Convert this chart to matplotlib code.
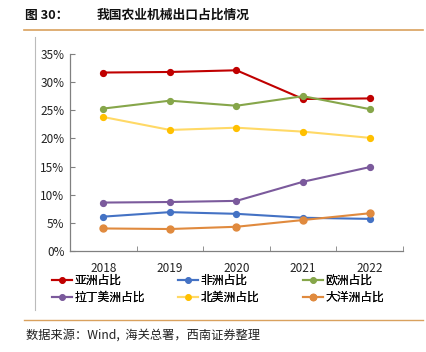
import numpy as np
import matplotlib.pyplot as plt
from matplotlib.lines import Line2D

plt.rcParams['font.family'] = ['Noto Sans CJK SC', 'DejaVu Sans']
plt.rcParams['axes.unicode_minus'] = False

years = ['2018', '2019', '2020', '2021', '2022']
asia = [31.7, 31.8, 32.1, 27.0, 27.1]
africa = [6.1, 6.9, 6.6, 5.9, 5.7]
europe = [25.3, 26.7, 25.8, 27.5, 25.2]
latam = [8.6, 8.7, 8.9, 12.3, 14.9]
namerica = [23.8, 21.5, 21.9, 21.2, 20.1]
oceania = [4.0, 3.9, 4.3, 5.5, 6.7]

names = ['亚洲占比', '非洲占比', '欧洲占比', '拉丁美洲占比', '北美洲占比', '大洋洲占比']
series = [asia, africa, europe, latam, namerica, oceania]
colors = ['#C00000', '#4472C4', '#86A64A', '#7B5A9C', '#FFD966', '#E08A3E']
mcolors = ['#C00000', '#4472C4', '#86A64A', '#7B5A9C', '#FFC000', '#E08A3E']
msizes = [4.2, 4.2, 4.2, 4.2, 4.2, 5.0]


def main():
    fig = plt.figure(figsize=(4.26, 3.52), dpi=100)
    ax = fig.add_axes([0.1643, 0.287, 0.7817, 0.5597])

    x = np.arange(len(years))
    handles = []
    for s, n, c, mc, ms in zip(series, names, colors, mcolors, msizes):
        h, = ax.plot(x, s, color=c, lw=1.5, marker='o', ms=ms,
                     markerfacecolor=mc, markeredgecolor=mc, label=n)
        handles.append(h)

    ax.set_xlim(-0.5, 4.5)
    ax.set_ylim(0, 35)
    ax.set_yticks(np.arange(0, 36, 5))
    ax.set_yticklabels(['%d%%' % v for v in range(0, 36, 5)])
    ax.set_xticks(x)
    ax.set_xticklabels(years)
    ax.set_xticks(np.arange(0.5, 5, 1), minor=True)
    ax.tick_params(axis='x', which='major', length=0, pad=8, labelsize=8.5, colors='#222222')
    ax.tick_params(axis='x', which='minor', length=3.5, direction='in', color='#808080')
    ax.tick_params(axis='y', length=3.5, direction='in', color='#808080', pad=4,
                   labelsize=8.5, labelcolor='#222222')
    for side in ['top', 'right']:
        ax.spines[side].set_visible(False)
    for side in ['left', 'bottom']:
        ax.spines[side].set_color('#808080')
        ax.spines[side].set_linewidth(0.9)

    # legend, three columns placed like the original
    cols_x = [52 / 426, 178 / 426, 303 / 426]
    for i, cx in enumerate(cols_x):
        leg = fig.legend([handles[i], handles[i + 3]], [names[i], names[i + 3]],
                         loc='upper left', bbox_to_anchor=(cx, 1 - 274 / 352),
                         frameon=False, fontsize=8.5, handlelength=1.7,
                         handletextpad=0.2, borderpad=0, borderaxespad=0,
                         labelspacing=0.35, markerscale=0.9)
        fig.add_artist(leg)

    # title and decorations
    fig.text(25 / 426, 1 - 15 / 352, '图 30：', fontsize=9.2,
             fontweight='bold', va='center', ha='left', color='#111111')
    fig.text(97 / 426, 1 - 15 / 352, '我国农业机械出口占比情况', fontsize=9.2,
             fontweight='bold', va='center', ha='left', color='#111111')
    fig.add_artist(Line2D([24 / 426, 423 / 426], [1 - 30 / 352, 1 - 30 / 352],
                          color='#D9A15E', lw=1.2))
    fig.add_artist(Line2D([35 / 426, 35 / 426], [1 - 37 / 352, 1 - 310 / 352],
                          color='#BBBBBB', lw=0.8))
    fig.add_artist(Line2D([24 / 426, 423 / 426], [1 - 320 / 352, 1 - 320 / 352],
                          color='#D9A15E', lw=1.0))
    fig.text(26 / 426, 1 - 335 / 352, '数据来源：Wind,  海关总署，西南证券整理', fontsize=8.8,
             style='italic', va='center', ha='left', color='#222222')

    fig.savefig('out.png', dpi=100)


if __name__ == '__main__':
    main()
